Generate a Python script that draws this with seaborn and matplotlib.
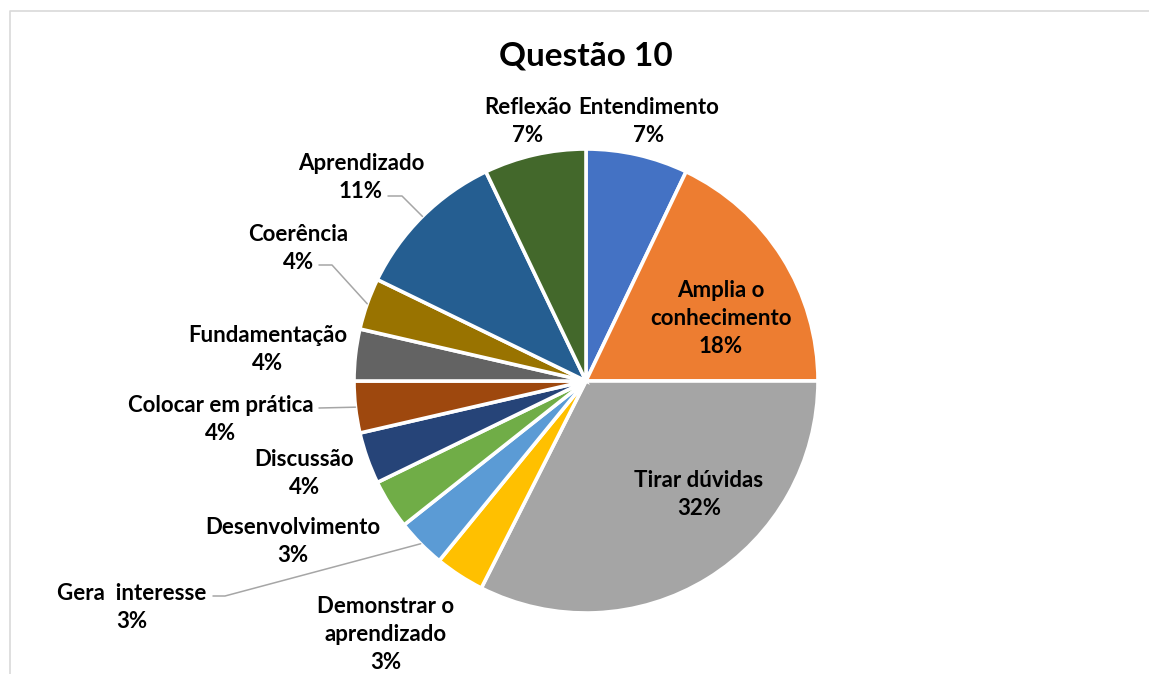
import numpy as np
import matplotlib.pyplot as plt
import seaborn as sns

# Questão 10 - percentuais por categoria (sentido horário a partir do topo)
categorias = ["Entendimento", "Amplia o\nconhecimento", "Tirar dúvidas",
              "Demonstrar o\naprendizado", "Gera  interesse", "Desenvolvimento",
              "Discussão", "Colocar em prática", "Fundamentação", "Coerência",
              "Aprendizado", "Reflexão"]
valores = [7.1, 17.9, 32.45, 3.45, 3.45, 3.45, 3.6, 3.6, 3.6, 3.6, 10.7, 7.1]
cores = ["#4472C4", "#ED7D31", "#A5A5A5", "#FFC000", "#5B9BD5", "#70AD47",
         "#264478", "#9E480E", "#636363", "#997300", "#255E91", "#43682B"]

W, H = 1149, 674
centro = (586, H - 381)
raio = 232

# posicao dos rotulos em pixels (x centro, topo do texto, medido do alto)
pos_rotulos = [(649, 97), (721, 280), (699, 470), (386, 596), (132, 583),
               (293, 517), (304.5, 449), (220.5, 395), (268, 325),
               (298.5, 224), (361, 153), (527.5, 97)]
# linhas de chamada: indice -> (inicio, cotovelo)
chamadas = {10: ((388, 196), (402, 196)),
            9: ((319, 265), (332, 265)),
            7: ((319, 408), None),
            4: ((213, 596), (225, 596))}

sns.set_theme(style="white")
plt.rcParams['font.family'] = ['Lato', 'DejaVu Sans']
paleta = sns.color_palette(cores)

fig = plt.figure(figsize=(W / 100, H / 100), dpi=100)
ax = fig.add_axes([0, 0, 1, 1])

wedges, _ = ax.pie(valores, colors=paleta, startangle=90, counterclock=False,
                   radius=raio, center=centro,
                   wedgeprops=dict(edgecolor="white", linewidth=2.6))
ax.set_xlim(0, W)
ax.set_ylim(0, H)
ax.set_aspect("equal")
ax.axis("off")

# borda da area do grafico
ax.plot([9.5, 9.5, W + 5], [-5, H - 10.5, H - 10.5], color="#D9D9D9", lw=1.2,
        clip_on=False)

ax.text(586, H - 42, "Questão 10", ha="center", va="top", fontsize=24,
        fontweight="bold", color="black")

for i, (nome, v) in enumerate(zip(categorias, valores)):
    x, y = pos_rotulos[i]
    ax.text(x, H - y, f"{nome}\n{round(v):.0f}%", ha="center", va="top",
            multialignment="center", fontsize=16, fontweight="bold",
            color="black", linespacing=1.4, zorder=5)

# linhas de chamada ate o meio da fatia
for i, (ini, cot) in chamadas.items():
    w = wedges[i]
    meio = np.deg2rad((w.theta1 + w.theta2) / 2)
    borda = (centro[0] + raio * np.cos(meio), centro[1] + raio * np.sin(meio))
    xs = [ini[0]]
    ys = [H - ini[1]]
    if cot is not None:
        xs.append(cot[0])
        ys.append(H - cot[1])
    xs.append(borda[0])
    ys.append(borda[1])
    ax.plot(xs, ys, color="#A6A6A6", lw=1.1, zorder=1)

fig.savefig("out.png", dpi=100)
